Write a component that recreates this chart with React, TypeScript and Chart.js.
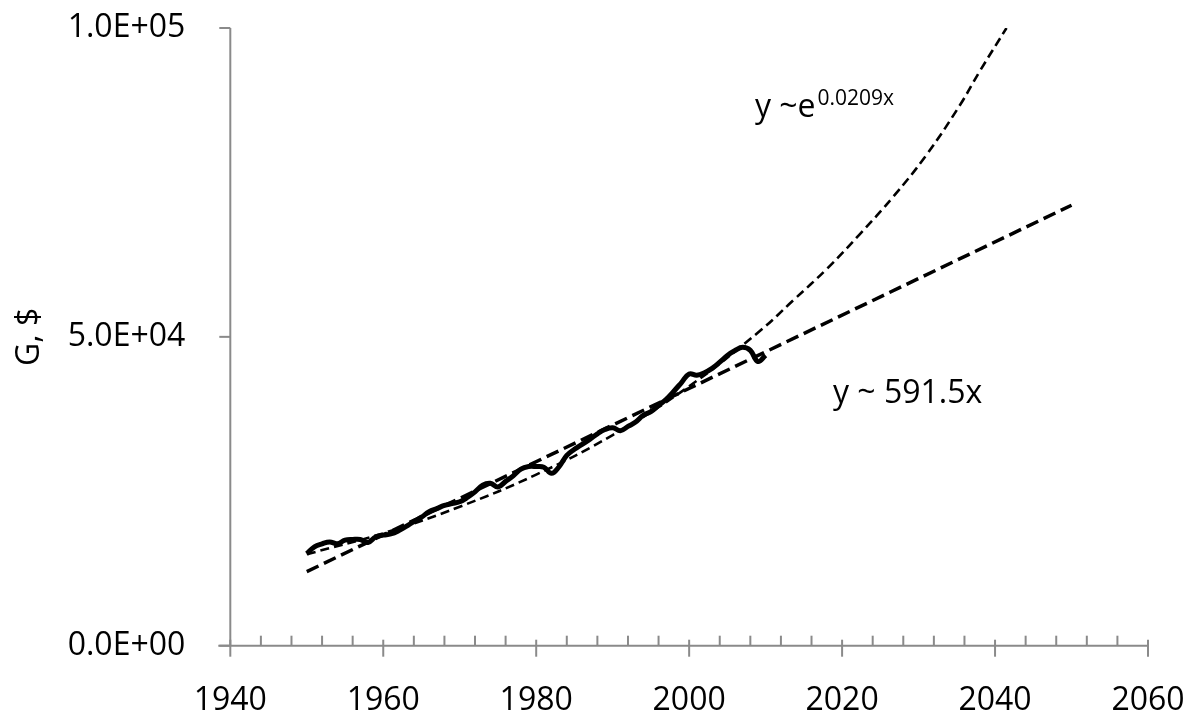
import React, { useEffect, useRef } from "react";
import { Chart, registerables } from "chart.js";

Chart.register(...registerables);

// ---- data ----
const years = [
  1950, 1951, 1952, 1953, 1954, 1955, 1956, 1957, 1958, 1959,
  1960, 1961, 1962, 1963, 1964, 1965, 1966, 1967, 1968, 1969,
  1970, 1971, 1972, 1973, 1974, 1975, 1976, 1977, 1978, 1979,
  1980, 1981, 1982, 1983, 1984, 1985, 1986, 1987, 1988, 1989,
  1990, 1991, 1992, 1993, 1994, 1995, 1996, 1997, 1998, 1999,
  2000, 2001, 2002, 2003, 2004, 2005, 2006, 2007, 2008, 2009,
  2010,
];
const gdp = [
  14900, 16000, 16500, 16800, 16500, 17100, 17200, 17200, 16700, 17600,
  17900, 18100, 18600, 19300, 20100, 20800, 21700, 22200, 22700, 23000,
  23300, 24000, 24900, 26000, 26300, 25700, 26600, 27500, 28600, 29000,
  29000, 28900, 27900, 29000, 30800, 31800, 32600, 33400, 34300, 35000,
  35300, 34800, 35500, 36200, 37300, 37900, 38900, 39900, 41200, 42600,
  44000, 43800, 44200, 44900, 45900, 47000, 47800, 48300, 47800, 46000,
  47000,
];

const linYears = [1950, 2050];
const linValues = [12000, 71300];

const expYears = [1950, 1960, 1970, 1980, 1990, 2000, 2009.2, 2013.6, 2018, 2022.3, 2026.7, 2031, 2035.4, 2038, 2041.5];
const expValues = [14800, 18200, 22500, 27700, 34100, 42000, 50900, 55900, 61000, 66600, 72700, 79400, 87500, 93000, 100000];

const xMin = 1940;
const xMax = 2060;
const xMajorStep = 20;
const xMinorStep = 4;
const yMin = 0;
const yMax = 100000;
const yStep = 50000;

const yTitle = "G, $";
const linLabel = "y ~ 591.5x";
const expLabelBase = "y ~e";
const expLabelSup = "0.0209x";
// label anchors in data coordinates
const expLabelAt = { x: 2008.6, y: 85600 };
const linLabelAt = { x: 2018.8, y: 39300 };

const FONT = '"Open Sans", sans-serif';
const AXIS_COLOR = "#8a8a8a";

function sci(v: number): string {
  const [m, e] = v.toExponential(1).split("e");
  const sign = e[0] === "-" ? "-" : "+";
  const d = e.replace(/[+-]/, "").padStart(2, "0");
  return `${m}E${sign}${d}`;
}

const axesPlugin = {
  id: "excelAxes",
  afterDraw(chart: any) {
    const { ctx } = chart;
    const x = chart.scales.x;
    const y = chart.scales.y;
    const x0 = x.getPixelForValue(xMin);
    const x1 = x.getPixelForValue(xMax);
    const yb = y.getPixelForValue(yMin);
    const yt = y.getPixelForValue(yMax);
    ctx.save();
    ctx.strokeStyle = AXIS_COLOR;
    ctx.lineWidth = 2;
    ctx.lineCap = "butt";
    const line = (a: number, b: number, c: number, d: number) => {
      ctx.beginPath();
      ctx.moveTo(a, b);
      ctx.lineTo(c, d);
      ctx.stroke();
    };
    line(x0, yt, x0, yb);
    line(x0 - 12, yb, x1, yb);
    for (let v = yMin; v <= yMax; v += yStep) {
      const py = y.getPixelForValue(v);
      line(x0 - 11, py, x0, py);
    }
    for (let yr = xMin; yr <= xMax; yr += xMinorStep) {
      const px = x.getPixelForValue(yr);
      if ((yr - xMin) % xMajorStep === 0) line(px, yb - 6, px, yb + 11);
      else line(px, yb - 10, px, yb);
    }

    // annotations
    ctx.fillStyle = "#000";
    ctx.textBaseline = "alphabetic";
    ctx.textAlign = "left";
    ctx.font = `32px ${FONT}`;
    const ex = x.getPixelForValue(expLabelAt.x);
    const ey = y.getPixelForValue(expLabelAt.y);
    ctx.fillText(expLabelBase, ex, ey);
    const w = ctx.measureText(expLabelBase).width;
    ctx.font = `21px ${FONT}`;
    ctx.fillText(expLabelSup, ex + w + 2, ey - 12);
    ctx.font = `32px ${FONT}`;
    ctx.fillText(linLabel, x.getPixelForValue(linLabelAt.x), y.getPixelForValue(linLabelAt.y));
    ctx.restore();
  },
};

export default function App() {
  const ref = useRef<HTMLCanvasElement | null>(null);
  useEffect(() => {
    if (!ref.current) return;
    const chart = new Chart(ref.current, {
      type: "line",
      data: {
        datasets: [
          {
            label: "G",
            data: years.map((yr, i) => ({ x: yr, y: gdp[i] })),
            borderColor: "#000",
            borderWidth: 5,
            pointRadius: 0,
            tension: 0.4,
            fill: false,
          },
          {
            label: "linear",
            data: linYears.map((yr, i) => ({ x: yr, y: linValues[i] })),
            borderColor: "#000",
            borderWidth: 3.5,
            borderDash: [13, 6],
            pointRadius: 0,
            tension: 0,
            fill: false,
          },
          {
            label: "exp",
            data: expYears.map((yr, i) => ({ x: yr, y: expValues[i] })),
            borderColor: "#000",
            borderWidth: 2.6,
            borderDash: [9, 5],
            pointRadius: 0,
            tension: 0.4,
            fill: false,
          },
        ],
      },
      options: {
        responsive: false,
        animation: false,
        events: [],
        layout: { padding: { top: 28, right: 44, left: 0, bottom: 0 } },
        plugins: {
          legend: { display: false },
          tooltip: { enabled: false },
        },
        scales: {
          x: {
            type: "linear",
            min: xMin,
            max: xMax,
            grid: { display: false },
            border: { display: false },
            ticks: {
              stepSize: xMajorStep,
              color: "#000",
              font: { family: FONT, size: 32 },
              padding: 28,
              maxRotation: 0,
              autoSkip: false,
              callback: (v: any) => String(v),
            },
            afterFit: (s: any) => {
              s.height = 72.3;
              s.paddingLeft = 0;
              s.paddingRight = 0;
            },
          },
          y: {
            type: "linear",
            min: yMin,
            max: yMax,
            grid: { display: false },
            border: { display: false },
            ticks: {
              stepSize: yStep,
              color: "#000",
              font: { family: FONT, size: 32 },
              padding: 37,
              callback: (v: any) => sci(Number(v)),
            },
            title: {
              display: true,
              text: yTitle,
              color: "#000",
              font: { family: FONT, size: 32 },
              padding: { top: 11, bottom: 0 },
            },
            afterFit: (s: any) => {
              s.width = 230.3;
              s.paddingTop = 0;
              s.paddingBottom = 0;
            },
          },
        },
      },
      plugins: [axesPlugin],
    });
    return () => chart.destroy();
  }, []);
  return (
    <div style={{ position: "fixed", left: 0, top: 0, width: 1192, height: 718, background: "#fff" }}>
      <canvas ref={ref} width={1192} height={718} />
    </div>
  );
}
